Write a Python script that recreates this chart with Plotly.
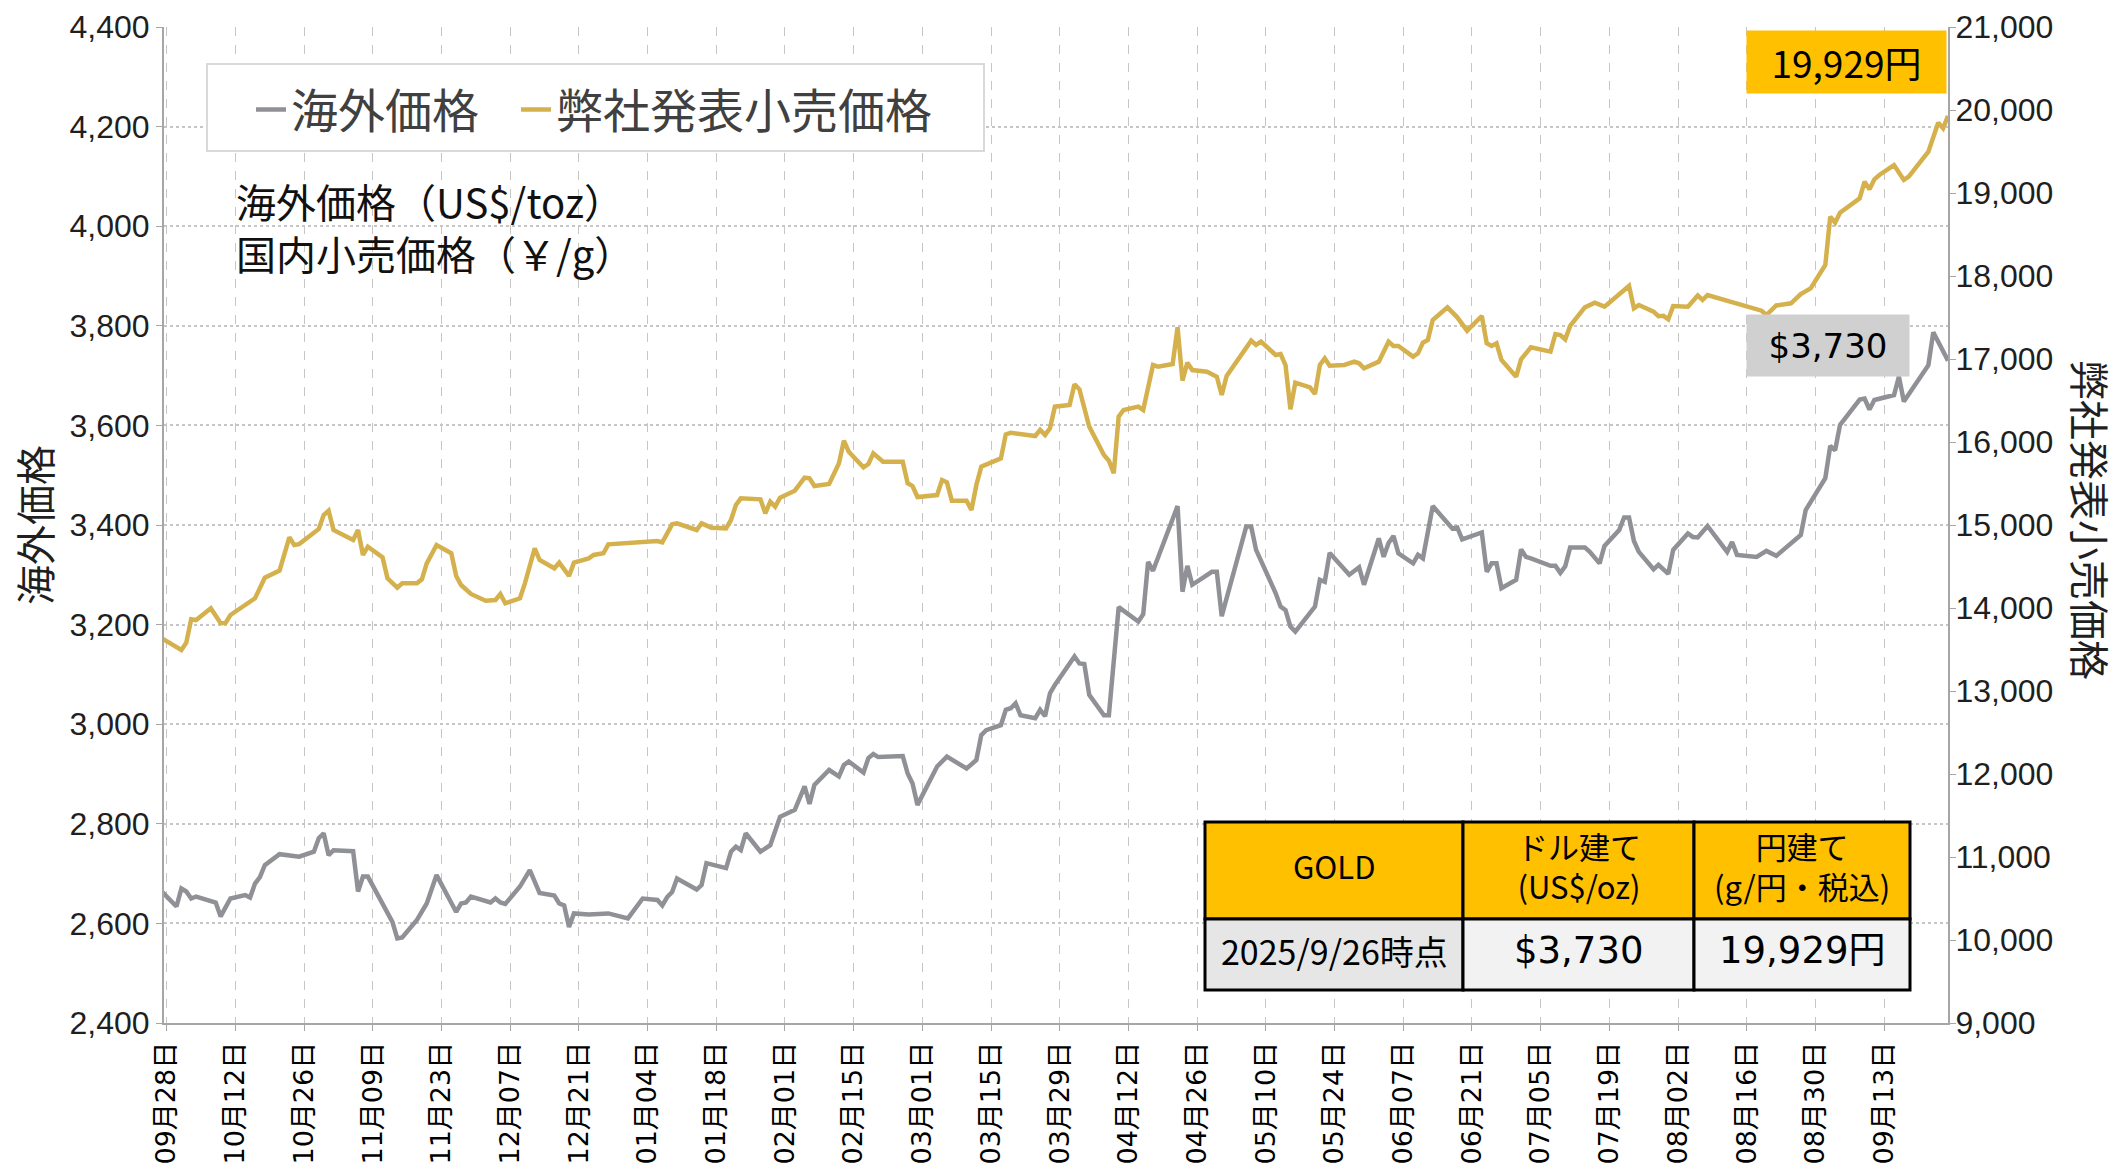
import plotly.graph_objects as go

# ---------------- data ----------------
world_dates = [
    "2024-09-27", "2024-09-30", "2024-10-01", "2024-10-02", "2024-10-03", "2024-10-04", "2024-10-08",
    "2024-10-09", "2024-10-11", "2024-10-14", "2024-10-15", "2024-10-16", "2024-10-17", "2024-10-18",
    "2024-10-21", "2024-10-23", "2024-10-24", "2024-10-25", "2024-10-28", "2024-10-29", "2024-10-30",
    "2024-10-31", "2024-11-01", "2024-11-05", "2024-11-06", "2024-11-07", "2024-11-08", "2024-11-12",
    "2024-11-13", "2024-11-14", "2024-11-15", "2024-11-18", "2024-11-20", "2024-11-22", "2024-11-26",
    "2024-11-27", "2024-11-28", "2024-11-29", "2024-12-03", "2024-12-04", "2024-12-05", "2024-12-06",
    "2024-12-09", "2024-12-11", "2024-12-13", "2024-12-16", "2024-12-17", "2024-12-18", "2024-12-19",
    "2024-12-20", "2024-12-23", "2024-12-27", "2024-12-31", "2025-01-03", "2025-01-06", "2025-01-07",
    "2025-01-08", "2025-01-09", "2025-01-10", "2025-01-14", "2025-01-15", "2025-01-16", "2025-01-20",
    "2025-01-21", "2025-01-22", "2025-01-23", "2025-01-24", "2025-01-27", "2025-01-29", "2025-01-31",
    "2025-02-03", "2025-02-05", "2025-02-06", "2025-02-07", "2025-02-10", "2025-02-12", "2025-02-13",
    "2025-02-14", "2025-02-17", "2025-02-18", "2025-02-19", "2025-02-20", "2025-02-25", "2025-02-26",
    "2025-02-27", "2025-02-28", "2025-03-03", "2025-03-04", "2025-03-06", "2025-03-10", "2025-03-12",
    "2025-03-13", "2025-03-14", "2025-03-17", "2025-03-18", "2025-03-19", "2025-03-20", "2025-03-21",
    "2025-03-24", "2025-03-25", "2025-03-26", "2025-03-27", "2025-03-28", "2025-04-01", "2025-04-02",
    "2025-04-03", "2025-04-04", "2025-04-07", "2025-04-08", "2025-04-10", "2025-04-14", "2025-04-15",
    "2025-04-16", "2025-04-17", "2025-04-22", "2025-04-23", "2025-04-24", "2025-04-25", "2025-04-29",
    "2025-04-30", "2025-05-01", "2025-05-06", "2025-05-07", "2025-05-08", "2025-05-12", "2025-05-13",
    "2025-05-14", "2025-05-15", "2025-05-16", "2025-05-19", "2025-05-20", "2025-05-21", "2025-05-22",
    "2025-05-23", "2025-05-27", "2025-05-29", "2025-05-30", "2025-06-02", "2025-06-03", "2025-06-04",
    "2025-06-05", "2025-06-06", "2025-06-09", "2025-06-10", "2025-06-11", "2025-06-13", "2025-06-17",
    "2025-06-18", "2025-06-19", "2025-06-23", "2025-06-24", "2025-06-25", "2025-06-26", "2025-06-27",
    "2025-06-30", "2025-07-01", "2025-07-02", "2025-07-03", "2025-07-07", "2025-07-08", "2025-07-09",
    "2025-07-10", "2025-07-11", "2025-07-14", "2025-07-15", "2025-07-17", "2025-07-18", "2025-07-21",
    "2025-07-22", "2025-07-23", "2025-07-24", "2025-07-25", "2025-07-28", "2025-07-29", "2025-07-31",
    "2025-08-01", "2025-08-04", "2025-08-05", "2025-08-06", "2025-08-08", "2025-08-12", "2025-08-13",
    "2025-08-14", "2025-08-18", "2025-08-20", "2025-08-22", "2025-08-27", "2025-08-28", "2025-09-01",
    "2025-09-02", "2025-09-03", "2025-09-04", "2025-09-08", "2025-09-09", "2025-09-10", "2025-09-11",
    "2025-09-15", "2025-09-16", "2025-09-17", "2025-09-22", "2025-09-23", "2025-09-26",
]
world_values = [
    2664, 2634, 2670, 2664, 2650, 2654, 2642,
    2614, 2650, 2657, 2652, 2680, 2693, 2717,
    2739, 2737, 2734, 2734, 2744, 2771, 2781,
    2737, 2747, 2745, 2664, 2694, 2694, 2620,
    2603, 2570, 2572, 2607, 2640, 2697, 2623,
    2640, 2642, 2654, 2642, 2650, 2642, 2639,
    2674, 2707, 2661, 2656, 2640, 2636, 2593,
    2620, 2618, 2620, 2610, 2650, 2647, 2636,
    2653, 2663, 2690, 2668, 2677, 2721, 2711,
    2744, 2754, 2747, 2781, 2744, 2757, 2814,
    2828, 2875, 2840, 2878, 2908, 2895, 2918,
    2925, 2903, 2932, 2940, 2934, 2936, 2901,
    2881, 2838, 2898, 2915, 2935, 2911, 2928,
    2978, 2988, 2998, 3029, 3032, 3042, 3018,
    3012, 3029, 3016, 3062, 3079, 3136, 3122,
    3121, 3059, 3018, 3018, 3235, 3206, 3221,
    3326, 3308, 3438, 3266, 3318, 3280, 3306,
    3306, 3217, 3397, 3397, 3350, 3263, 3236,
    3229, 3196, 3186, 3225, 3236, 3290, 3286,
    3344, 3300, 3315, 3280, 3373, 3336, 3364,
    3378, 3343, 3323, 3340, 3333, 3438, 3393,
    3395, 3371, 3385, 3306, 3323, 3323, 3273,
    3290, 3351, 3336, 3333, 3318, 3318, 3304,
    3317, 3355, 3355, 3346, 3323, 3358, 3390,
    3415, 3415, 3368, 3346, 3311, 3320, 3302,
    3350, 3383, 3376, 3375, 3398, 3346, 3366,
    3340, 3336, 3348, 3338, 3380, 3430, 3494,
    3559, 3550, 3601, 3652, 3654, 3632, 3651,
    3661, 3698, 3648, 3721, 3787, 3730,
]

retail_dates = [
    "2024-09-27", "2024-10-01", "2024-10-02", "2024-10-03", "2024-10-04", "2024-10-07", "2024-10-09",
    "2024-10-10", "2024-10-11", "2024-10-15", "2024-10-16", "2024-10-18", "2024-10-21", "2024-10-23",
    "2024-10-24", "2024-10-25", "2024-10-28", "2024-10-29", "2024-10-30", "2024-10-31", "2024-11-01",
    "2024-11-05", "2024-11-06", "2024-11-07", "2024-11-08", "2024-11-11", "2024-11-12", "2024-11-14",
    "2024-11-15", "2024-11-18", "2024-11-19", "2024-11-20", "2024-11-22", "2024-11-25", "2024-11-26",
    "2024-11-27", "2024-11-29", "2024-12-02", "2024-12-04", "2024-12-05", "2024-12-06", "2024-12-09",
    "2024-12-10", "2024-12-12", "2024-12-13", "2024-12-16", "2024-12-17", "2024-12-19", "2024-12-20",
    "2024-12-23", "2024-12-24", "2024-12-26", "2024-12-27", "2025-01-06", "2025-01-07", "2025-01-09",
    "2025-01-10", "2025-01-14", "2025-01-15", "2025-01-17", "2025-01-20", "2025-01-21", "2025-01-22",
    "2025-01-23", "2025-01-27", "2025-01-28", "2025-01-29", "2025-01-30", "2025-01-31", "2025-02-03",
    "2025-02-05", "2025-02-06", "2025-02-07", "2025-02-10", "2025-02-12", "2025-02-13", "2025-02-14",
    "2025-02-17", "2025-02-18", "2025-02-19", "2025-02-21", "2025-02-25", "2025-02-26", "2025-02-27",
    "2025-02-28", "2025-03-04", "2025-03-05", "2025-03-06", "2025-03-07", "2025-03-10", "2025-03-11",
    "2025-03-12", "2025-03-13", "2025-03-17", "2025-03-18", "2025-03-19", "2025-03-24", "2025-03-25",
    "2025-03-26", "2025-03-27", "2025-03-28", "2025-03-31", "2025-04-01", "2025-04-02", "2025-04-04",
    "2025-04-07", "2025-04-08", "2025-04-09", "2025-04-10", "2025-04-11", "2025-04-14", "2025-04-15",
    "2025-04-17", "2025-04-18", "2025-04-21", "2025-04-22", "2025-04-23", "2025-04-24", "2025-04-25",
    "2025-04-28", "2025-04-30", "2025-05-01", "2025-05-02", "2025-05-07", "2025-05-08", "2025-05-09",
    "2025-05-12", "2025-05-13", "2025-05-14", "2025-05-15", "2025-05-16", "2025-05-19", "2025-05-20",
    "2025-05-21", "2025-05-22", "2025-05-23", "2025-05-26", "2025-05-28", "2025-05-29", "2025-05-30",
    "2025-06-02", "2025-06-04", "2025-06-05", "2025-06-06", "2025-06-09", "2025-06-10", "2025-06-11",
    "2025-06-12", "2025-06-13", "2025-06-16", "2025-06-18", "2025-06-20", "2025-06-23", "2025-06-24",
    "2025-06-25", "2025-06-26", "2025-06-27", "2025-06-30", "2025-07-01", "2025-07-03", "2025-07-07",
    "2025-07-08", "2025-07-09", "2025-07-10", "2025-07-11", "2025-07-14", "2025-07-16", "2025-07-18",
    "2025-07-23", "2025-07-24", "2025-07-25", "2025-07-28", "2025-07-29", "2025-07-30", "2025-07-31",
    "2025-08-01", "2025-08-04", "2025-08-06", "2025-08-07", "2025-08-08", "2025-08-19", "2025-08-20",
    "2025-08-22", "2025-08-25", "2025-08-27", "2025-08-28", "2025-08-29", "2025-09-01", "2025-09-02",
    "2025-09-03", "2025-09-04", "2025-09-08", "2025-09-09", "2025-09-10", "2025-09-11", "2025-09-12",
    "2025-09-15", "2025-09-17", "2025-09-18", "2025-09-22", "2025-09-24", "2025-09-25", "2025-09-26",
]
retail_values = [
    13635, 13494, 13582, 13864, 13855, 13996, 13816,
    13820, 13916, 14076, 14117, 14365, 14450, 14852,
    14759, 14770, 14900, 14952, 15120, 15172, 14940,
    14819, 14940, 14639, 14739, 14610, 14357, 14245,
    14297, 14297, 14345, 14538, 14759, 14659, 14386,
    14277, 14169, 14088, 14096, 14169, 14056, 14117,
    14297, 14719, 14578, 14478, 14546, 14386, 14546,
    14598, 14639, 14659, 14767, 14807, 14790, 15008,
    15020, 14940, 15020, 14968, 14960, 15060, 15241,
    15321, 15309, 15141, 15281, 15221, 15329, 15413,
    15570, 15562, 15470, 15494, 15743, 16016, 15883,
    15695, 15735, 15864, 15763, 15763, 15502, 15470,
    15337, 15361, 15542, 15514, 15293, 15293, 15181,
    15482, 15703, 15803, 16092, 16112, 16072, 16145,
    16085, 16165, 16426, 16446, 16695, 16635, 16185,
    15843, 15775, 15623, 16305, 16386, 16426, 16386,
    16928, 16908, 16940, 17382, 16739, 16956, 16867,
    16847, 16787, 16566, 16795, 17221, 17169, 17209,
    17048, 17060, 16928, 16394, 16715, 16659, 16578,
    16928, 17008, 16920, 16928, 16968, 16948, 16888,
    16968, 17209, 17157, 17157, 17028, 17068, 17197,
    17229, 17470, 17622, 17502, 17341, 17518, 17189,
    17157, 17189, 16988, 16787, 16996, 17141, 17088,
    17301, 17289, 17237, 17398, 17622, 17679, 17631,
    17880, 17610, 17650, 17570, 17515, 17520, 17478,
    17639, 17630, 17765, 17711, 17771, 17582, 17530,
    17645, 17671, 17783, 17811, 17851, 18133, 18715,
    18643, 18763, 18936, 19136, 19044, 19165, 19217,
    19337, 19157, 19197, 19498, 19847, 19779, 19929,
]

series_names = ["海外価格", "弊社発表小売価格"]
unit_note = ["海外価格（US$/toz）", "国内小売価格（￥/g）"]
table_header = ["GOLD", "ドル建て<br>(US$/oz)", "円建て<br>(g/円・税込)"]
as_of_label = "2025/9/26時点"

left_ticks = list(range(2400, 4401, 200))
right_ticks = list(range(9000, 21001, 1000))

# ---------------- styling / layout constants ----------------
W, H = 2120, 1172
L, R, T, B = 164, 172, 27, 149
PW, PH = W - L - R, H - T - B

def px(xp):  # pixel x -> paper x
    return (xp - L) / PW

def py(yp):  # pixel y -> paper y
    return 1 - (yp - T) / PH

GRAY = "#8F9196"
GOLD = "#D5B14E"
YELLOW = "#FFC000"
NUM_FONT = "Liberation Sans, Arial, sans-serif"
JP_FONT = "Noto Sans CJK JP, sans-serif"
VERD_FONT = "DejaVu Sans, Noto Sans CJK JP, sans-serif"
GRID = "#C6C6C6"
AXIS = "#A6A6A6"
TXT = "#1F1F1F"

fig = go.Figure()
fig.add_trace(go.Scatter(
    x=world_dates, y=world_values, name=series_names[0], mode="lines",
    line=dict(color=GRAY, width=4.5), yaxis="y", legend="legend",
))
fig.add_trace(go.Scatter(
    x=retail_dates, y=retail_values, name=series_names[1], mode="lines",
    line=dict(color=GOLD, width=4.5), yaxis="y2", legend="legend2",
))

usd_text = f"${world_values[-1]:,}"
jpy_text = f"{retail_values[-1]:,}円"

shapes = []
annotations = []

# legend frame
shapes.append(dict(type="rect", xref="paper", yref="paper",
                   x0=px(207), x1=px(984), y0=py(151), y1=py(64),
                   line=dict(color="#D9D9D9", width=2), fillcolor="white", layer="above"))

# unit note
annotations.append(dict(
    xref="paper", yref="paper", x=px(234), y=py(227), xanchor="left", yanchor="middle",
    text="<br>".join(unit_note), showarrow=False, align="left",
    font=dict(family=JP_FONT, size=40, color="#111111"),
))

# axis titles
annotations.append(dict(
    xref="paper", yref="paper", x=px(34), y=py(525), xanchor="center", yanchor="middle",
    text=series_names[0], showarrow=False, textangle=-90,
    font=dict(family=JP_FONT, size=40, color=TXT),
))
annotations.append(dict(
    xref="paper", yref="paper", x=px(2091), y=py(520), xanchor="center", yanchor="middle",
    text=series_names[1], showarrow=False, textangle=90,
    font=dict(family=JP_FONT, size=40, color=TXT),
))

# callouts for the latest values
annotations.append(dict(
    xref="paper", yref="paper", x=px(1947), y=py(30), xanchor="right", yanchor="top",
    text=jpy_text, showarrow=False, bgcolor=YELLOW, width=199, height=62, borderpad=0,
    font=dict(family=JP_FONT, size=37, color="#000000"),
))
annotations.append(dict(
    xref="paper", yref="paper", x=px(1910), y=py(314), xanchor="right", yanchor="top",
    text=usd_text, showarrow=False, bgcolor="#D0D0D0", width=162, height=61, borderpad=0,
    font=dict(family=VERD_FONT, size=34, color="#000000"),
))

# summary table (frame positions are layout; texts come from the data above)
col_edges = [1205, 1463, 1694, 1910]
row_edges = [822, 919, 990]
body_texts = [as_of_label, usd_text, jpy_text]
body_fill = ["#E7E6E6", "#F2F2F2", "#F2F2F2"]
body_font = [(JP_FONT, 34), (VERD_FONT, 37), (VERD_FONT, 37)]
for i in range(3):
    x0, x1 = col_edges[i], col_edges[i + 1]
    shapes.append(dict(type="rect", xref="paper", yref="paper",
                       x0=px(x0), x1=px(x1), y0=py(row_edges[1]), y1=py(row_edges[0]),
                       line=dict(color="#000000", width=3), fillcolor=YELLOW, layer="above"))
    shapes.append(dict(type="rect", xref="paper", yref="paper",
                       x0=px(x0), x1=px(x1), y0=py(row_edges[2]), y1=py(row_edges[1]),
                       line=dict(color="#000000", width=3), fillcolor=body_fill[i], layer="above"))
    annotations.append(dict(
        xref="paper", yref="paper", x=px((x0 + x1) / 2), y=py((row_edges[0] + row_edges[1]) / 2 - 5),
        xanchor="center", yanchor="middle", text=table_header[i], showarrow=False, align="center",
        font=dict(family=JP_FONT, size=31, color="#000000"),
    ))
    annotations.append(dict(
        xref="paper", yref="paper", x=px((x0 + x1) / 2), y=py((row_edges[1] + row_edges[2]) / 2 - 4),
        xanchor="center", yanchor="middle", text=body_texts[i], showarrow=False, align="center",
        font=dict(family=body_font[i][0], size=body_font[i][1], color="#000000"),
    ))

legend_common = dict(
    orientation="h", xanchor="left", yanchor="middle",
    borderwidth=0, bgcolor="rgba(0,0,0,0)",
    font=dict(family=JP_FONT, size=47, color="#404040"),
    itemwidth=30,
)

fig.update_layout(
    width=W, height=H,
    margin=dict(l=L, r=R, t=T, b=B, autoexpand=False),
    paper_bgcolor="white", plot_bgcolor="white",
    showlegend=True,
    legend=dict(x=px(251), y=py(110), **legend_common),
    legend2=dict(x=px(516), y=py(110), **legend_common),
    xaxis=dict(
        type="date", automargin=False,
        range=["2024-09-27 11:00", "2025-09-26 00:00"],
        tick0="2024-09-28", dtick=14 * 86400000,
        tickformat="%m月%d日", tickangle=-90,
        tickfont=dict(family=VERD_FONT, size=27, color="#000000"),
        showgrid=True, gridcolor=GRID, griddash="dash", gridwidth=1.2,
        showline=True, linecolor=AXIS, linewidth=2,
        ticks="outside", ticklen=6, tickcolor=AXIS,
        zeroline=False,
    ),
    yaxis=dict(
        range=[2400, 4400], tickvals=left_ticks, tickformat=",", automargin=False,
        tickfont=dict(family=NUM_FONT, size=32, color=TXT),
        showgrid=True, gridcolor=GRID, griddash="dot", gridwidth=1.5,
        showline=True, linecolor=AXIS, linewidth=2,
        ticks="outside", ticklen=6, tickcolor=AXIS,
        zeroline=False,
    ),
    yaxis2=dict(
        range=[9000, 21000], tickvals=right_ticks, tickformat=",", automargin=False,
        overlaying="y", side="right",
        tickfont=dict(family=NUM_FONT, size=32, color=TXT),
        showgrid=False,
        showline=True, linecolor=AXIS, linewidth=2,
        ticks="outside", ticklen=6, tickcolor=AXIS, ticklabelstandoff=-7,
        zeroline=False,
    ),
    shapes=shapes,
    annotations=annotations,
)

fig.write_html(
    "out.html",
    config={"displayModeBar": False},
    post_script="document.body.style.margin='0';document.body.style.overflow='hidden';",
)
